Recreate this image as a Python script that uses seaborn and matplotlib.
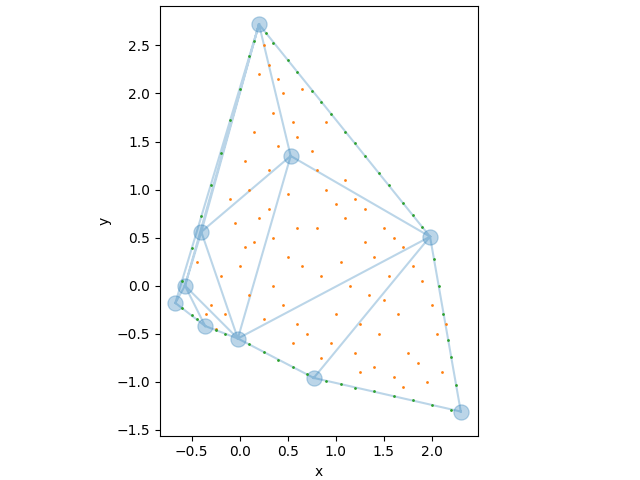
import matplotlib
matplotlib.use("Agg")
import matplotlib.pyplot as plt
import seaborn as sns

# triangulation vertices
vx = [0.20, 0.53, -0.40, -0.57, -0.67, -0.36, -0.02, 0.77, 1.98, 2.30]
vy = [2.72, 1.35, 0.56, 0.00, -0.18, -0.42, -0.55, -0.96, 0.51, -1.31]
triangles = [
    [0, 1, 2], [0, 2, 3], [0, 3, 4], [1, 2, 6], [2, 3, 6], [3, 5, 6],
    [3, 4, 5], [0, 1, 8], [1, 6, 8], [6, 7, 8], [7, 8, 9],
]

# points inside the hull
ix = [0.25, 0.3, 0.45, 0.35, 0.15, 0.4, 0.05, 0.1, -0.1, 0.3, 0.55, 0.6, 0.75, 0.8,
      0.9, 1.0, 1.1, 1.2, 1.3, 1.5, 1.6, 1.4, 1.7, 0.2, 0.35, 0.5, 0.65, 0.85, 1.05,
      1.15, 1.35, 1.55, 1.8, 1.9, 0.0, -0.2, -0.3, -0.15, 0.1, 0.25, 0.45, 0.6, 0.7,
      0.95, 1.25, 1.45, 1.65, 1.75, 2.0, 2.05, 2.1, 1.95, 1.85, 1.6, 1.4, 1.2, 1.0,
      0.85, 0.55, 0.35, 0.15, -0.05, -0.35, -0.25, 0.3, 0.5, 0.8, 1.1, 1.3, 1.5,
      0.4, 0.65, 0.9, 1.7, 2.15, 0.2, -0.45, 0.05, 0.6, 1.25]
iy = [2.5, 2.3, 2.0, 1.8, 1.6, 1.45, 1.3, 1.0, 0.9, 1.2, 1.7, 1.55, 1.4, 1.2,
      1.0, 0.85, 0.7, 0.9, 0.8, 0.6, 0.5, 0.3, 0.4, 0.7, 0.5, 0.3, 0.2, 0.1, 0.25,
      0.0, -0.1, 0.1, 0.2, 0.05, 0.2, 0.1, -0.2, -0.3, -0.1, -0.35, -0.2, -0.4, -0.5,
      -0.6, -0.4, -0.5, -0.3, -0.7, -0.2, -0.5, -0.9, -1.0, -0.8, -0.95, -0.85, -0.7,
      -0.3, -0.75, -0.6, 0.0, 0.45, 0.65, -0.3, -0.45, 0.8, 0.95, 0.6, 1.1, 0.45, -0.15,
      2.15, 2.05, 1.7, -1.05, -0.4, 2.2, 0.25, 0.4, 0.6, -0.9]

# points on the hull edges
ex = [0.27, 0.35, 0.5, 0.6, 0.75, 0.85, 0.95, 1.1, 1.2, 1.3, 1.45, 1.55, 1.7, 1.8, 1.9,
      -0.6, -0.5, -0.4, -0.3, -0.2, -0.1, 0.0, 0.1, 0.15,
      2.02, 2.07, 2.12, 2.17, 2.2, 2.25,
      0.9, 1.05, 1.2, 1.4, 1.6, 1.8, 2.0, 2.2,
      0.1, 0.25, 0.4, 0.55, 0.7,
      -0.6, -0.5, -0.45, -0.25, -0.15]
ey = [2.63, 2.53, 2.35, 2.22, 2.03, 1.91, 1.79, 1.60, 1.48, 1.35, 1.17, 1.05, 0.86, 0.74, 0.61,
      0.05, 0.39, 0.72, 1.05, 1.38, 1.72, 2.05, 2.39, 2.55,
      0.28, 0.0, -0.29, -0.57, -0.74, -1.03,
      -0.99, -1.02, -1.06, -1.10, -1.15, -1.19, -1.24, -1.29,
      -0.61, -0.69, -0.77, -0.85, -0.92,
      -0.23, -0.31, -0.35, -0.46, -0.50]

fig = plt.figure(figsize=(6.4, 4.8), dpi=100)
ax = fig.add_axes([0.25, 0.09, 0.497, 0.9])
ax.triplot(vx, vy, triangles, color="C0", alpha=0.3)
sns.scatterplot(x=vx, y=vy, s=120, color="C0", alpha=0.3, edgecolor="C0", ax=ax)
sns.scatterplot(x=ix, y=iy, s=4, color="C1", linewidth=0, ax=ax)
sns.scatterplot(x=ex, y=ey, s=4, color="C2", linewidth=0, ax=ax)
ax.set_xlim(-0.83, 2.48)
ax.set_ylim(-1.56, 2.91)
ax.set_aspect("equal", adjustable="box")
ax.set_xlabel("x")
ax.set_ylabel("y")
fig.savefig("out.png")
